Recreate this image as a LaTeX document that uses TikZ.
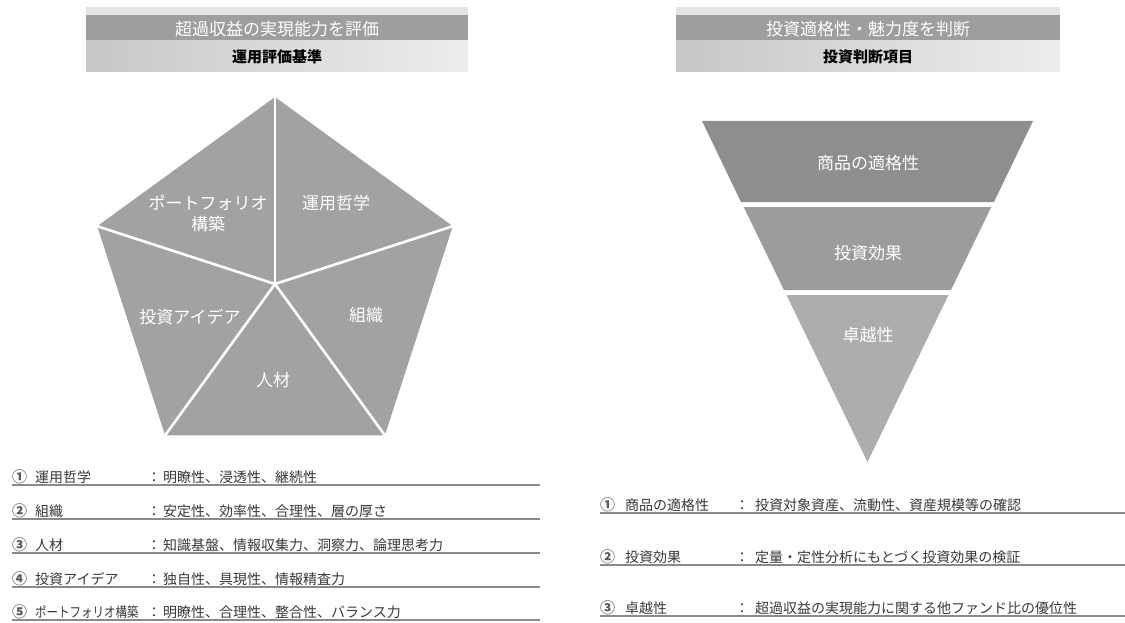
\documentclass[tikz,border=0pt]{standalone}
\usepackage{fontspec}
\setmainfont{Noto Sans CJK JP}
\definecolor{pentfill}{HTML}{A2A2A2}
\definecolor{bandA}{HTML}{8E8E8E}
\definecolor{bandB}{HTML}{9C9C9C}
\definecolor{bandC}{HTML}{ADADAD}
\definecolor{hdark}{HTML}{9E9E9E}
\definecolor{hlight}{HTML}{E4E4E4}
\definecolor{listcol}{HTML}{383838}
\definecolor{linecol}{HTML}{8A8A8A}
\begin{document}
\begin{tikzpicture}[x=1pt,y=-1pt,
  bigwhite/.style={text=white,font=\fontsize{17}{21}\selectfont,align=center,inner sep=0pt},
  hdtitle/.style={text=white,font=\fontsize{17}{20}\selectfont,inner sep=0pt},
  hdsub/.style={text=black,font=\bfseries\fontsize{15}{18}\selectfont,inner sep=0pt},
  listtext/.style={anchor=base west,inner sep=0pt,text=listcol,font=\fontsize{14}{16}\selectfont},
  listcolon/.style={anchor=base,inner sep=0pt,text=listcol,font=\fontsize{14}{16}\selectfont},
  listnum/.style={anchor=base west,inner sep=0pt,text=black!65,font=\bfseries\fontsize{15}{16}\selectfont},
  uline/.style={draw=linecol,line width=1.6pt},
  sepline/.style={draw=white,line width=2.6pt}
]
\useasboundingbox (0,0) rectangle (1125,623);

% ---------- left header ----------
\fill[hlight] (86,7) rectangle (468,15);
\fill[hdark] (86,15) rectangle (468,41);
\shade[left color=black!22,right color=black!7] (86,41) rectangle (468,72);
\node[hdtitle] (lefttitle) at (277,29) {超過収益の実現能力を評価};
\node[hdsub] (leftsub) at (277,57) {運用評価基準};

% ---------- right header ----------
\fill[hlight] (676,7) rectangle (1060,15);
\fill[hdark] (676,15) rectangle (1060,41);
\shade[left color=black!22,right color=black!7] (676,41) rectangle (1060,72);
\node[hdtitle] (righttitle) at (868,29) {投資適格性・魅力度を判断};
\node[hdsub] (rightsub) at (868,57) {投資判断項目};

% ---------- pentagon ----------
\coordinate (pc) at (275,284);
\coordinate (p1) at (275,97);
\coordinate (p2) at (452.8,226.2);
\coordinate (p3) at (384.9,435.3);
\coordinate (p4) at (165.1,435.3);
\coordinate (p5) at (97.2,226.2);
\fill[pentfill] (p1)--(p2)--(p3)--(p4)--(p5)--cycle;
\foreach \p in {p1,p2,p3,p4,p5} \draw[sepline] (pc)--(\p);
\node[bigwhite] (pportfolio) at (208,213) {ポートフォリオ\\構築};
\node[bigwhite] (pphil) at (336,203) {運用哲学};
\node[bigwhite] (porg) at (366,315) {組織};
\node[bigwhite] (pidea) at (190,317) {投資アイデア};
\node[bigwhite] (ppeople) at (273,380) {人材};

% ---------- inverted triangle ----------
\fill[bandA] (702,121)--(1033,121)--(994,202)--(741,202)--cycle;
\fill[bandB] (743.7,207)--(991.3,207)--(951,290)--(784,290)--cycle;
\fill[bandC] (786.5,295)--(948.5,295)--(867.5,462)--cycle;
\node[bigwhite] (tfit) at (868,163) {商品の適格性};
\node[bigwhite] (teff) at (868,253) {投資効果};
\node[bigwhite] (texc) at (868,335) {卓越性};

% ---------- left list ----------
\foreach \yy/\num/\lab/\val in {
  485/①/運用哲学/明瞭性、浸透性、継続性,
  519/②/組織/安定性、効率性、合理性、層の厚さ,
  553/③/人材/知識基盤、情報収集力、洞察力、論理思考力,
  587/④/投資アイデア/独自性、具現性、情報精査力,
  620/⑤/{\scalebox{0.82}[1]{ポートフォリオ構築}}/明瞭性、合理性、整合性、バランス力}{
  \draw[uline] (12,\yy) -- (540,\yy);
  \node[listnum] at (12,\yy-3) {\num};
  \node[listtext] at (35,\yy-3) {\lab};
  \node[listcolon] at (154,\yy-3) {：};
  \node[listtext] at (163,\yy-3) {\val};
}

% ---------- right list ----------
\foreach \yy/\num/\lab/\val in {
  513/①/商品の適格性/投資対象資産、流動性、資産規模等の確認,
  565/②/投資効果/定量・定性分析にもとづく投資効果の検証,
  616/③/卓越性/超過収益の実現能力に関する他ファンド比の優位性}{
  \draw[uline] (600,\yy) -- (1125,\yy);
  \node[listnum] at (600,\yy-3) {\num};
  \node[listtext] at (625,\yy-3) {\lab};
  \node[listcolon] at (742,\yy-3) {：};
  \node[listtext] at (755,\yy-3) {\val};
}
\end{tikzpicture}
\end{document}
